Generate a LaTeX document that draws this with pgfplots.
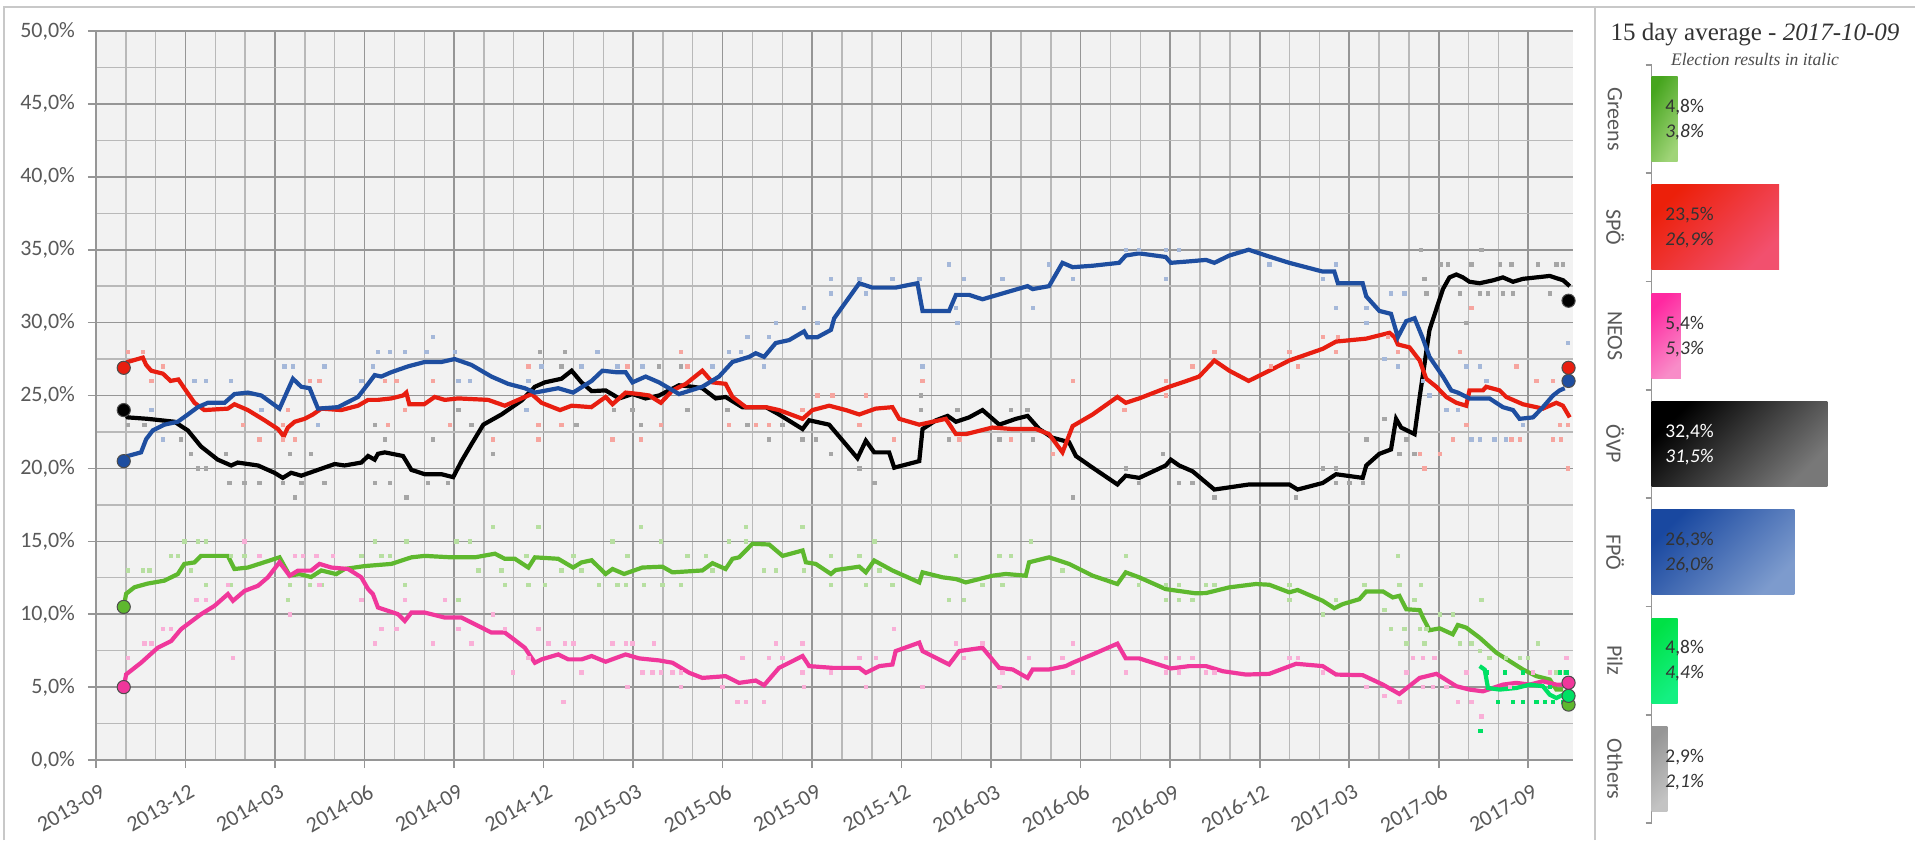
\documentclass[border=0pt]{standalone}
\usepackage{fontspec}
\setmainfont{Carlito}
\newfontfamily\seriffont{Liberation Serif}
\usepackage{pgfplots}
\pgfplotsset{compat=1.18}
\definecolor{cSPO}{RGB}{232,30,16}
\definecolor{cFPO}{RGB}{30,78,160}
\definecolor{cGRU}{RGB}{94,184,46}
\definecolor{cNEOS}{RGB}{240,55,155}
\definecolor{cPILZ}{RGB}{0,224,100}
\definecolor{cGRID}{RGB}{150,150,150}
\definecolor{cGRIDm}{RGB}{185,185,185}
\definecolor{cBG}{RGB}{242,242,242}
\definecolor{cTXT}{RGB}{89,89,89}
\definecolor{cFRAME}{RGB}{200,200,200}
\begin{document}
\begin{tikzpicture}
\path[use as bounding box] (0,0) rectangle (957.5pt,420pt);
\fill[white] (0,0) rectangle (957.5pt,420pt);
\draw[cFRAME, line width=0.8pt] (2pt,0) -- (2pt,416.5pt) -- (957.5pt,416.5pt);
\draw[cFRAME, line width=0.8pt] (797.5pt,0) -- (797.5pt,416.5pt);
\begin{axis}[at={(48pt,40pt)}, anchor=south west, scale only axis,
  width=738.5pt, height=364.5pt, xmin=0, xmax=49.5, ymin=0, ymax=50,
  axis background/.style={fill=cBG},
  axis x line*=bottom, axis y line*=left,
  axis line style={cGRID, line width=0.8pt, -},
  xtick={0,3,...,48},
  xticklabels={2013-09,2013-12,2014-03,2014-06,2014-09,2014-12,2015-03,2015-06,2015-09,2015-12,2016-03,2016-06,2016-09,2016-12,2017-03,2017-06,2017-09},
  ytick={0,5,...,50},
  yticklabels={{0,0\%},{5,0\%},{10,0\%},{15,0\%},{20,0\%},{25,0\%},{30,0\%},{35,0\%},{40,0\%},{45,0\%},{50,0\%}},
  minor x tick num=2, minor y tick num=1,
  grid=both,
  major grid style={cGRID, line width=0.8pt},
  minor grid style={cGRIDm, line width=0.7pt},
  tick align=outside, major tick length=4pt, minor tick length=0pt,
  tick style={cGRID, line width=0.8pt},
  ticklabel style={font=\fontsize{11}{13}\selectfont, text=cTXT},
  yticklabel style={xshift=-3pt},
  xticklabel style={rotate=30, anchor=north east, xshift=1pt, yshift=-4pt},
  clip=false]
% polls
\addplot[only marks, mark=square*, mark size=0.85pt, color=cSPO!40] coordinates {
(1.06,28)(1.57,28)(2.24,27)(1.85,26)(4.92,23)(5.48,22)(6.26,22)(6.66,22)(6.26,23)(7.16,26)(7.49,26)(6.43,24)(9.79,23)(9.68,26)(10.07,26)(10.35,24)(11.3,26)(11.86,23)(13.31,22)(14.49,27)(14.82,23)(15.6,23)(14.82,22)
(19.6,28)(17.81,27)(19.82,27)(17.31,22)(18.26,22)(18.93,23)(21.22,23)(22.11,23)(22.56,23)(24.18,25)(24.68,25)(25.8,25)(23.68,24)(25.58,23)(26.75,22)(27.7,26)(28.93,22)(30.66,22)(32.06,21)(32.73,26)
(34.46,24)(35.85,26)(35.85,25)(36.75,27)(37.48,28)(39.38,27)(39.99,28)(40.27,27)(41.11,29)(41.62,29)(41.56,28)(43.29,29)(43.63,28)(45.7,28)(46.09,31)(45.92,23)(45.47,22)(44.52,20)(44.36,21)(45.03,21)(47.6,27)(48.27,26)(48.83,26)(49.05,23)(49.33,23)(49.33,20)(48.83,22)(49.1,22)(47.71,22)(47.43,22)};
\addplot[only marks, mark=square*, mark size=0.85pt, color=cFPO!40] coordinates {
(2.24,22)(3.3,26)(3.69,26)(6.32,27)(6.6,27)(7.66,27)(7.44,23)(4.53,26)(5.54,24)(9.45,28)(9.84,28)(10.35,28)(11.07,28)(11.3,29)(12.02,28)(9.28,27)(8.89,26)(12.14,26)(12.53,26)(14.49,26)(14.43,24)(14.93,27)(16.27,27)(1.85,24)
(16.8,28)(17.47,27)(18.31,27)(20.66,27)(21.22,28)(21.61,28)(21.83,29)(22.39,27)(22.56,29)(22.78,30)(23.73,31)(24.18,30)(24.63,33)(24.63,32)(25.58,33)(25.8,32)(26.69,33)(27.59,33)(28.59,34)(29.09,33)(28.82,31)(28.87,30)(30.38,33)(31.39,31)(31.94,34)(32.73,33)(27.7,27)
(34.51,35)(34.96,35)(35.85,35)(36.3,35)(35.85,33)(39.32,34)(41.11,33)(41.56,34)(41.56,31)(42.57,31)(42.57,30)(43.18,27.5)(43.4,32)(43.85,32)(43.63,27)(44.47,26)(44.69,25)(45.25,24)(45.64,24)(45.92,27)(46.37,27)(46.09,22)(46.37,22)(46.87,22)(47.26,22)(46.59,26)(47.82,23)(49.33,28.6)};
\addplot[only marks, mark=square*, mark size=0.85pt, color=black!35] coordinates {
(1.06,23)(1.62,23)(2.85,22)(3.19,21)(3.41,20)(3.69,20)(4.36,21)(4.47,19)(4.98,19)(5.48,19)(6.49,21)(6.26,19)(6.88,19)(6.66,18)(7.21,21)(7.66,19)(9.34,23)(9.68,22)(9.34,19)(9.84,19)(10.4,18)(11.3,22)(11.13,19)(11.8,19)(12.14,24)(12.58,23)(13.31,21)(14.88,28)(15.72,28)(15.6,27)(16.1,23)
(17.36,24)(17.98,24)(18.26,23)(18.87,27)(19.6,27)(19.82,24)(21.16,24)(21.83,23)(22.56,22)(23.0,23)(23.68,22)(24.12,22)(24.63,21)(25.58,20)(26.08,19)(27.64,25)(27.64,24)(28.87,24)(28.59,22)(30.27,22)(30.66,24)(31.22,24)(31.39,22)(32.73,18)
(44.41,35)(46.43,35)(45.08,34)(45.3,34)(46.09,34)(47.04,34)(47.43,34)(48.33,34)(48.94,34)(49.16,34)(44.52,33)(44.58,32)(45.7,32)(46.37,32)(46.65,32)(47.15,32)(47.49,32)(48.72,32)(45.92,30)(43.18,23.4)(42.57,22)(43.91,22)(43.68,21)(44.19,21)(34.51,20)(34.96,19)(35.76,21)(36.3,19)(36.75,19)(37.48,18)(40.22,18)(41.11,20)(41.56,20)(41.56,19)(42.0,19)(42.45,19)};
\addplot[only marks, mark=square*, mark size=0.85pt, color=cGRU!45] coordinates {
(1.06,13)(1.57,13)(1.79,13)(2.52,14)(2.74,14)(2.96,15)(3.41,15)(3.69,15)(3.19,13)(3.69,12)(4.53,14)(4.98,14)(4.53,12)(6.49,12)(6.43,11)(7.16,12)(7.55,12)(8.89,14)(9.34,15)(9.56,14)(9.84,14)(10.35,12)(10.4,15)(12.14,11)(12.08,15)(12.53,15)(12.81,13)(13.31,16)(13.59,13)(13.7,12)(14.49,12)(14.82,16)(14.43,14)(15.04,12)(15.6,13)(16.0,14)(16.27,13)
(17.31,15)(18.26,16)(18.93,15)(17.81,14)(16.86,12)(17.47,12)(17.75,12)(18.37,12)(18.98,12)(19.6,12)(19.82,14)(20.44,14)(20.66,13)(21.22,15)(21.78,16)(21.78,15)(22.39,13)(22.78,13)(23.68,16)(23.73,13)(24.63,14)(24.63,12)(25.58,14)(25.8,12)(26.08,15)(26.25,13)(26.69,12)(28.59,11)(29.09,11)(28.82,14)(30.27,14)(30.66,14)(31.33,15)(29.71,12)(30.38,12)(32.39,13)
(34.51,14)(34.96,12)(35.85,12)(36.3,12)(35.85,11)(36.3,11)(36.75,11)(37.2,12)(37.48,12)(39.99,12)(39.99,11)(41.11,10)(41.56,11)(42.51,12)(43.18,10.3)(43.63,14)(43.68,12)(44.41,12)(44.19,11)(43.4,9)(43.85,9)(44.36,9)(44.58,9)(43.91,8)(44.52,8)(45.03,10)(45.47,10)(45.7,8)(46.09,8)(46.43,11)(46.37,7.5)(46.7,7)(47.26,7)(47.71,7)(47.99,7)(48.33,8)(48.94,6)(49.22,6)};
\addplot[only marks, mark=square*, mark size=0.85pt, color=cNEOS!40] coordinates {
(1.06,7)(1.62,8)(1.85,8)(2.24,9)(2.52,9)(3.36,11)(3.69,11)(4.42,12)(4.59,7)(4.98,15)(5.48,14)(6.66,14)(6.94,14)(7.38,14)(7.94,14)(6.49,10)(7.49,12)(8.89,11)(9.34,8)(9.56,9)(10.07,9)(10.35,11)(11.3,8)(11.69,11)(12.14,9)(12.58,8)(13.31,10)(13.7,9)(13.98,6)(14.49,7)(14.82,9)(15.16,8)(15.66,4)(15.72,8)(16.0,8)(16.27,6)
(17.31,8)(17.75,8)(17.98,8)(18.7,8)(18.31,6)(18.65,6)(18.93,6)(19.32,6)(19.6,6)(17.81,5)(19.6,5)(20.99,5)(21.5,4)(21.78,4)(22.39,4)(21.66,7)(22.56,7)(23.0,7)(22.78,8)(23.68,8)(23.68,6)(23.73,5)(24.63,6)(25.58,7)(26.13,7)(25.8,5)(26.75,9)(27.7,5)(28.82,8)(29.71,8)(29.09,7)(30.27,5)(30.38,6)(31.27,7)(32.39,7)(32.73,8)(32.73,6)
(34.51,6)(35.85,7)(36.3,7)(36.75,7)(35.85,6)(36.3,6)(37.2,6)(37.48,6)(39.99,7)(40.27,7)(41.11,6)(42.57,5)(43.18,4.4)(43.68,4)(43.91,6)(44.13,7)(44.47,7)(44.86,7)(44.47,5)(44.8,5)(45.25,5)(45.64,4)(45.92,6)(46.09,4)(46.43,3)(47.38,5)(48.16,6)(48.72,6)(49.28,7)};
\addplot[only marks, mark=square*, mark size=0.85pt, color=cPILZ] coordinates {
(46.59,6)(46.98,4)(47.21,6)(47.49,4)(47.82,6)(47.82,4)(48.27,4)(48.55,4)(48.72,5)(49.05,6)(49.28,6)(49.17,4)(48.83,4)(46.4,2)};
% averages
\addplot[no marks, color=cGRU, line width=2.1pt] coordinates {
(0.93,10.5)(1.01,11.4)(1.29,11.85)(1.73,12.1)(2.29,12.3)(2.74,12.75)(2.96,13.45)(3.3,13.55)(3.52,14.0)(4.42,14.0)(4.64,13.1)(5.09,13.2)(6.15,13.9)(6.49,12.65)(6.82,12.75)(7.21,12.55)(7.55,13.0)(8.05,12.75)(8.33,13.1)(9.0,13.3)(9.9,13.45)(10.57,13.9)(11.02,14.0)(11.91,13.9)(12.7,13.9)(13.37,14.15)(13.7,13.8)(14.04,13.8)(14.49,13.2)(14.71,13.9)(15.49,13.8)(15.99,13.2)(16.27,13.55)(16.61,13.7)(17.08,12.76)(17.31,13.1)(17.7,12.76)(18.31,13.2)(18.98,13.26)(19.32,12.87)(20.32,13.0)(20.66,13.5)(21.1,13.1)(21.33,13.8)(21.55,13.9)(22.0,14.83)(22.56,14.78)(23.01,14.0)(23.68,14.37)(23.79,13.56)(24.12,13.45)(24.63,12.76)(24.79,13.03)(25.58,13.26)(25.8,12.87)(26.08,13.68)(26.69,13.0)(27.59,12.18)(27.7,12.87)(28.37,12.53)(28.82,12.41)(29.15,12.18)(30.04,12.64)(30.49,12.76)(31.16,12.64)(31.27,13.56)(31.94,13.9)(32.61,13.45)(33.4,12.64)(34.23,12.07)(34.51,12.87)(34.96,12.53)(35.85,11.72)(36.86,11.43)(37.2,11.45)(37.98,11.84)(38.87,12.07)(39.32,12.02)(39.99,11.5)(40.27,11.66)(41.11,10.92)(41.5,10.41)(41.78,10.69)(42.34,11.03)(42.57,11.56)(43.13,11.56)(43.46,11.15)(43.68,11.26)(43.91,10.34)(44.36,10.28)(44.47,9.77)(44.69,8.9)(45.03,9.03)(45.47,8.62)(45.64,9.26)(45.92,9.08)(46.37,8.39)(46.93,7.36)(47.38,6.78)(47.82,6.21)(48.27,5.75)(48.72,5.52)(48.94,4.83)(49.17,4.83)};
\addplot[no marks, color=cNEOS, line width=2.1pt] coordinates {
(0.93,5.0)(1.01,5.87)(1.51,6.67)(2.07,7.7)(2.52,8.16)(2.85,8.97)(3.52,10.0)(3.97,10.57)(4.42,11.38)(4.59,10.92)(4.98,11.6)(5.43,11.95)(5.76,12.53)(6.15,13.56)(6.49,12.64)(6.77,12.99)(7.21,12.99)(7.49,13.45)(7.89,13.2)(8.45,13.1)(8.89,12.53)(9.12,11.72)(9.28,11.38)(9.45,10.46)(9.79,10.23)(10.12,10.0)(10.35,9.54)(10.57,10.11)(11.02,10.11)(11.69,9.77)(12.25,9.77)(12.7,9.31)(13.25,8.74)(13.7,8.74)(13.93,8.39)(14.37,7.7)(14.71,6.67)(14.93,6.9)(15.49,7.24)(15.83,6.9)(16.27,6.9)(16.61,7.13)(17.08,6.74)(17.75,7.24)(18.2,6.97)(18.87,6.83)(19.32,6.67)(19.88,5.98)(20.32,5.63)(21.1,5.75)(21.55,5.29)(22.11,5.45)(22.39,5.13)(22.89,6.32)(23.68,7.13)(23.9,6.44)(24.68,6.32)(25.58,6.32)(25.8,5.98)(26.25,6.44)(26.69,6.55)(26.8,7.47)(27.59,8.05)(27.7,7.47)(28.59,6.55)(28.93,7.47)(29.71,7.7)(30.27,6.32)(30.72,6.21)(31.22,5.63)(31.39,6.21)(31.94,6.21)(32.5,6.44)(32.73,6.67)(33.4,7.24)(34.23,7.98)(34.51,6.97)(34.96,6.97)(36.02,6.28)(36.64,6.44)(37.2,6.44)(37.76,6.09)(38.54,5.86)(39.32,5.91)(40.22,6.6)(41.11,6.44)(41.56,5.86)(42.45,5.82)(43.13,5.17)(43.68,4.53)(44.36,5.63)(44.92,5.91)(45.59,5.06)(46.03,4.83)(46.48,4.71)(47.15,5.17)(47.6,5.29)(48.05,5.17)(48.49,5.4)(48.94,5.17)(49.17,5.17)};
\addplot[no marks, color=cPILZ, line width=2.1pt] coordinates {
(46.37,6.44)(46.54,6.2)(46.65,4.94)(47.04,4.83)(47.6,4.94)(48.05,5.17)(48.49,5.06)(48.72,4.48)(48.94,4.25)(49.17,4.48)};
\addplot[no marks, color=black, line width=2.1pt] coordinates {
(0.93,24.0)(1.06,23.5)(1.73,23.4)(2.63,23.2)(3.08,22.6)(3.52,21.5)(4.08,20.6)(4.53,20.2)(4.75,20.4)(5.43,20.2)(5.98,19.7)(6.26,19.35)(6.54,19.7)(6.88,19.5)(7.44,19.9)(8.0,20.3)(8.33,20.2)(8.89,20.4)(9.12,20.85)(9.34,20.6)(9.45,21.0)(9.68,21.1)(10.29,20.85)(10.57,19.9)(11.02,19.6)(11.58,19.6)(11.97,19.4)(12.25,20.5)(12.58,21.65)(12.98,23.0)(13.59,23.7)(14.26,24.65)(14.71,25.6)(15.04,25.9)(15.6,26.15)(15.94,26.7)(16.27,25.9)(16.61,25.3)(17.08,25.35)(17.53,24.8)(17.98,25.1)(18.42,24.8)(18.87,25.0)(19.54,25.7)(19.99,25.6)(20.32,25.5)(20.77,24.8)(21.1,24.9)(21.66,24.2)(22.45,24.2)(22.89,23.7)(23.68,22.7)(23.9,23.3)(24.57,23.0)(25.13,21.65)(25.52,20.7)(25.8,21.9)(26.08,21.1)(26.58,21.1)(26.75,20.05)(27.59,20.5)(27.7,22.7)(28.15,23.3)(28.54,23.6)(28.82,23.2)(29.26,23.5)(29.71,24.0)(30.27,23.0)(30.83,23.4)(31.22,23.6)(31.61,22.7)(32.06,22.1)(32.61,21.8)(32.84,20.85)(33.4,20.05)(34.23,18.9)(34.51,19.5)(34.96,19.35)(35.85,20.2)(36.02,20.6)(36.3,20.2)(36.75,19.8)(37.48,18.55)(38.65,18.9)(39.99,18.9)(40.27,18.55)(41.11,19.0)(41.56,19.6)(42.45,19.35)(42.57,20.2)(43.01,21.0)(43.4,21.3)(43.57,23.4)(43.74,22.8)(44.19,22.35)(44.36,24.9)(44.69,29.5)(45.14,32.3)(45.36,33.1)(45.59,33.3)(45.81,33.1)(46.03,32.8)(46.37,32.7)(46.82,32.9)(47.15,33.1)(47.49,32.8)(47.82,33.0)(48.72,33.2)(49.17,32.9)(49.39,32.5)};
\addplot[no marks, color=cSPO, line width=2.1pt] coordinates {
(0.93,27.0)(1.06,27.3)(1.57,27.6)(1.68,27.1)(1.85,26.7)(2.24,26.5)(2.5,26.0)(2.76,26.1)(2.96,25.5)(3.3,24.5)(3.63,24.0)(4.42,24.1)(4.64,24.4)(5.09,24.0)(5.65,23.3)(6.1,22.7)(6.29,22.2)(6.43,22.8)(6.66,23.2)(6.99,23.4)(7.27,23.7)(7.55,24.1)(8.22,24.0)(8.78,24.3)(9.12,24.7)(9.45,24.7)(9.9,24.8)(10.29,25.0)(10.4,25.2)(10.5,24.4)(11.0,24.4)(11.35,24.9)(11.69,24.7)(12.14,24.8)(13.14,24.7)(13.7,24.3)(14.26,24.8)(14.6,25.1)(14.93,24.5)(15.55,24.0)(15.94,24.3)(16.6,24.2)(17.08,24.9)(17.31,24.4)(17.75,25.2)(18.2,25.1)(18.54,25.0)(18.93,24.5)(19.32,25.35)(19.77,25.8)(20.32,26.7)(20.66,25.9)(21.1,25.8)(21.33,24.9)(21.78,24.2)(22.45,24.2)(22.89,24.0)(23.68,23.4)(24.01,24.0)(24.57,24.3)(25.13,24.0)(25.58,23.7)(26.13,24.1)(26.69,24.2)(26.92,23.4)(27.59,23.0)(28.48,23.4)(28.82,22.35)(29.15,22.35)(30.04,22.8)(30.72,22.7)(31.5,22.7)(31.94,22.35)(32.39,21.1)(32.73,22.9)(33.4,23.7)(34.23,24.9)(34.51,24.5)(34.96,24.8)(35.97,25.6)(36.41,25.9)(36.97,26.3)(37.48,27.4)(37.98,26.7)(38.63,26.0)(39.32,26.7)(39.99,27.4)(40.55,27.8)(41.11,28.2)(41.56,28.7)(42.57,28.9)(43.35,29.3)(43.52,29.0)(43.63,28.5)(44.02,28.3)(44.36,27.4)(44.58,26.15)(44.92,25.6)(45.25,24.9)(45.59,24.5)(45.92,24.3)(46.03,25.35)(46.48,25.35)(46.59,25.6)(47.04,25.35)(47.26,24.9)(47.82,24.4)(48.49,24.1)(48.94,24.5)(49.16,24.3)(49.39,23.5)};
\addplot[no marks, color=cFPO, line width=2.1pt] coordinates {
(0.93,20.5)(1.06,20.85)(1.51,21.1)(1.68,22.0)(1.9,22.6)(2.29,23.0)(2.74,23.2)(3.08,23.7)(3.41,24.2)(3.75,24.5)(4.31,24.5)(4.64,25.1)(5.09,25.2)(5.54,25.0)(6.15,24.1)(6.6,26.15)(6.88,25.6)(7.16,25.5)(7.44,24.1)(8.11,24.2)(8.78,24.9)(9.12,25.8)(9.34,26.4)(9.56,26.3)(9.9,26.6)(10.46,27.0)(11.02,27.3)(11.58,27.3)(12.02,27.5)(12.58,27.1)(13.25,26.3)(13.81,25.8)(14.37,25.5)(14.71,25.2)(15.49,25.5)(15.99,25.2)(16.61,26.0)(16.97,26.7)(17.42,26.6)(17.75,26.6)(17.98,25.9)(18.42,26.3)(18.87,25.9)(19.54,25.1)(20.32,25.6)(20.88,26.3)(21.33,27.3)(21.89,27.65)(22.11,27.9)(22.39,27.65)(22.78,28.6)(23.23,28.8)(23.73,29.4)(23.84,29.0)(24.18,29.0)(24.63,29.5)(24.74,30.3)(25.58,32.7)(26.02,32.4)(26.8,32.4)(27.53,32.7)(27.7,30.8)(28.59,30.8)(28.82,31.9)(29.26,31.9)(29.71,31.6)(30.38,32.0)(31.22,32.5)(31.39,32.3)(31.94,32.5)(32.39,34.1)(32.73,33.8)(33.4,33.9)(34.29,34.1)(34.51,34.6)(34.96,34.75)(35.85,34.5)(36.02,34.1)(36.64,34.2)(37.2,34.3)(37.48,34.1)(37.98,34.6)(38.63,35.0)(39.21,34.6)(39.99,34.1)(40.55,33.8)(41.11,33.5)(41.5,33.5)(41.62,32.7)(42.45,32.7)(42.57,31.8)(43.01,30.8)(43.4,30.6)(43.63,29.0)(43.91,30.1)(44.19,30.3)(44.47,28.9)(44.69,27.65)(45.14,26.3)(45.42,25.35)(45.64,25.2)(46.03,24.8)(46.7,24.8)(47.15,24.2)(47.49,24.0)(47.71,23.4)(48.16,23.5)(48.49,24.2)(48.83,25.0)(49.05,25.35)(49.22,25.5)};
% election results
\addplot[only marks, mark=*, mark size=3.3pt, mark options={draw=black!70, line width=0.5pt, fill=cSPO}] coordinates {(0.93,26.9)(49.35,26.9)};
\addplot[only marks, mark=*, mark size=3.3pt, mark options={draw=black!70, line width=0.5pt, fill=black}] coordinates {(0.93,24.0)(49.35,31.5)};
\addplot[only marks, mark=*, mark size=3.3pt, mark options={draw=black!70, line width=0.5pt, fill=cFPO}] coordinates {(0.93,20.5)(49.35,26.0)};
\addplot[only marks, mark=*, mark size=3.3pt, mark options={draw=black!70, line width=0.5pt, fill=cGRU}] coordinates {(0.93,10.5)(49.35,3.8)};
\addplot[only marks, mark=*, mark size=3.3pt, mark options={draw=black!70, line width=0.5pt, fill=cPILZ}] coordinates {(49.35,4.4)};
\addplot[only marks, mark=*, mark size=3.3pt, mark options={draw=black!70, line width=0.5pt, fill=cNEOS}] coordinates {(0.93,5.0)(49.35,5.3)};
\end{axis}
% right panel
\node[font=\seriffont\fontsize{12.5}{14}\selectfont, text=black!80] at (877.5pt,402.5pt) {15 day average - \textit{2017-10-09}};
\node[font=\seriffont\itshape\fontsize{8.8}{10}\selectfont, text=black!70] at (877.5pt,390pt) {Election results in italic};
\begin{axis}[at={(825.75pt,8.5pt)}, anchor=south west, scale only axis,
  width=130.25pt, height=379pt, xmin=0, xmax=48, ymin=-0.5, ymax=6.5,
  y dir=reverse, hide x axis, axis y line*=left,
  y axis line style={cGRID, line width=0.8pt, -},
  ytick={-0.5,0.5,...,6.5}, yticklabels={},
  tick align=outside, major tick length=3pt, tick style={cGRID, line width=0.8pt},
  clip=false]
\addplot[xbar, bar width=42.5pt, bar shift=0pt, draw=none, top color={rgb,255:red,70;green,165;blue,30}, bottom color={rgb,255:red,160;green,212;blue,120}, shading angle=60] coordinates {(4.8,0)};
\addplot[xbar, bar width=42.5pt, bar shift=0pt, draw=none, top color={rgb,255:red,236;green,32;blue,10}, bottom color={rgb,255:red,242;green,80;blue,110}, shading angle=45] coordinates {(23.5,1)};
\addplot[xbar, bar width=42.5pt, bar shift=0pt, draw=none, top color={rgb,255:red,255;green,40;blue,160}, bottom color={rgb,255:red,248;green,140;blue,200}, shading angle=45] coordinates {(5.4,2)};
\addplot[xbar, bar width=42.5pt, bar shift=0pt, draw=none, top color=black, bottom color={rgb,255:red,120;green,120;blue,120}, shading angle=45] coordinates {(32.4,3)};
\addplot[xbar, bar width=42.5pt, bar shift=0pt, draw=none, top color={rgb,255:red,25;green,72;blue,160}, bottom color={rgb,255:red,125;green,155;blue,205}, shading angle=45] coordinates {(26.3,4)};
\addplot[xbar, bar width=42.5pt, bar shift=0pt, draw=none, top color={rgb,255:red,0;green,225;blue,70}, bottom color={rgb,255:red,20;green,240;blue,130}, shading angle=45] coordinates {(4.8,5)};
\addplot[xbar, bar width=42.5pt, bar shift=0pt, draw=none, top color={rgb,255:red,150;green,150;blue,150}, bottom color={rgb,255:red,195;green,195;blue,195}, shading angle=45] coordinates {(2.9,6)};
\foreach \k/\n in {0/Greens,1/SPÖ,2/NEOS,3/ÖVP,4/FPÖ,5/Pilz,6/Others}{
  \edef\tmp{\noexpand\node[rotate=-90, font=\noexpand\fontsize{11}{13}\noexpand\selectfont, text=cTXT] at ([xshift=-18.25pt]axis cs:0,\k) {\n};}
  \tmp
}
\node[anchor=west, inner sep=0pt, yshift=6pt, font=\fontsize{9.7}{11}\selectfont, text=black!80] at (axis cs:2.5,0) {4,8\%};
\node[anchor=west, inner sep=0pt, yshift=-6.5pt, font=\fontsize{9.7}{11}\selectfont\itshape, text=black!80] at (axis cs:2.5,0) {3,8\%};
\node[anchor=west, inner sep=0pt, yshift=6pt, font=\fontsize{9.7}{11}\selectfont, text=black!80] at (axis cs:2.5,1) {23,5\%};
\node[anchor=west, inner sep=0pt, yshift=-6.5pt, font=\fontsize{9.7}{11}\selectfont\itshape, text=black!80] at (axis cs:2.5,1) {26,9\%};
\node[anchor=west, inner sep=0pt, yshift=6pt, font=\fontsize{9.7}{11}\selectfont, text=black!80] at (axis cs:2.5,2) {5,4\%};
\node[anchor=west, inner sep=0pt, yshift=-6.5pt, font=\fontsize{9.7}{11}\selectfont\itshape, text=black!80] at (axis cs:2.5,2) {5,3\%};
\node[anchor=west, inner sep=0pt, yshift=6pt, font=\fontsize{9.7}{11}\selectfont, text=white] at (axis cs:2.5,3) {32,4\%};
\node[anchor=west, inner sep=0pt, yshift=-6.5pt, font=\fontsize{9.7}{11}\selectfont\itshape, text=white] at (axis cs:2.5,3) {31,5\%};
\node[anchor=west, inner sep=0pt, yshift=6pt, font=\fontsize{9.7}{11}\selectfont, text=black!80] at (axis cs:2.5,4) {26,3\%};
\node[anchor=west, inner sep=0pt, yshift=-6.5pt, font=\fontsize{9.7}{11}\selectfont\itshape, text=black!80] at (axis cs:2.5,4) {26,0\%};
\node[anchor=west, inner sep=0pt, yshift=6pt, font=\fontsize{9.7}{11}\selectfont, text=black!80] at (axis cs:2.5,5) {4,8\%};
\node[anchor=west, inner sep=0pt, yshift=-6.5pt, font=\fontsize{9.7}{11}\selectfont\itshape, text=black!80] at (axis cs:2.5,5) {4,4\%};
\node[anchor=west, inner sep=0pt, yshift=6pt, font=\fontsize{9.7}{11}\selectfont, text=black!80] at (axis cs:2.5,6) {2,9\%};
\node[anchor=west, inner sep=0pt, yshift=-6.5pt, font=\fontsize{9.7}{11}\selectfont\itshape, text=black!80] at (axis cs:2.5,6) {2,1\%};
\end{axis}
\end{tikzpicture}
\end{document}
